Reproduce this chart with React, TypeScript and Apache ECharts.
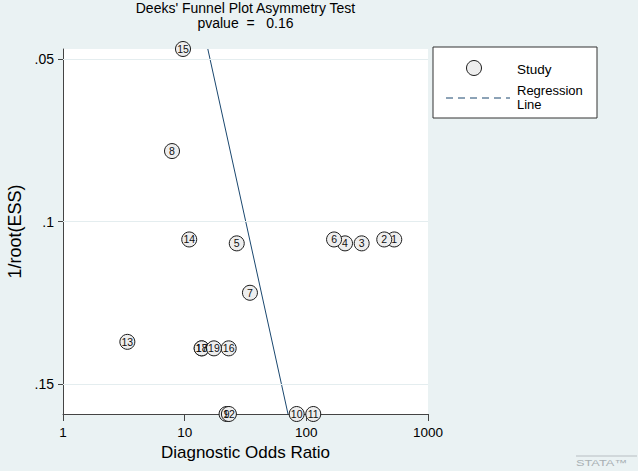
import React, { useEffect, useRef } from "react";
import * as echarts from "echarts";

// ---- data ----
const studyIds = ["1", "2", "3", "4", "5", "6", "7", "8", "9", "10", "11", "12", "13", "14", "15", "16", "17", "18", "19"];
const studyDOR = [528, 437, 285, 208, 26.8, 169, 34.4, 7.87, 22.1, 83.3, 114, 23.1, 3.38, 10.9, 9.69, 23.0, 13.8, 13.8, 17.4];
const studyInvRootESS = [0.1055, 0.1055, 0.1067, 0.1067, 0.1067, 0.1055, 0.1219, 0.0783, 0.1592, 0.1592, 0.1592, 0.1592, 0.137, 0.1055, 0.0469, 0.139, 0.139, 0.139, 0.139];
const regressionDOR = [15.5, 70.7];
const regressionInvRootESS = [0.0469, 0.1592];
const xTicks = [1, 10, 100, 1000];
const yTicks = [0.05, 0.1, 0.15];
const yTickLabels = [".05", ".1", ".15"];
const yRange = [0.0469, 0.1592];
const titleText = "Deeks' Funnel Plot Asymmetry Test";
const pvalueText = "pvalue\u00a0 =\u00a0\u00a0 0.16";

const FONT = "'Liberation Sans', Arial, Helvetica, sans-serif";
const BG = "#EAF2F3";
const NAVY = "#1A476F";

export default function App() {
  const ref = useRef<HTMLDivElement>(null);
  useEffect(() => {
    document.body.style.margin = "0";
    const chart = echarts.init(ref.current!, undefined, { renderer: "svg" });
    const gridLeft = 63, gridTop = 49, gridRight = 638 - 428, gridBottom = 471 - 414;
    const plotCenterX = (63 + 428) / 2;
    const points = studyIds.map((id, i) => ({ name: id, value: [studyDOR[i], studyInvRootESS[i]] }));
    const line = regressionDOR.map((x, i) => [x, regressionInvRootESS[i]]);
    chart.setOption({
      animation: false,
      backgroundColor: BG,
      textStyle: { fontFamily: FONT },
      grid: {
        left: gridLeft, top: gridTop, right: gridRight, bottom: gridBottom,
        containLabel: false, outerBoundsMode: "none",
        show: true, backgroundColor: "#ffffff", borderWidth: 0,
      },
      xAxis: {
        type: "log",
        logBase: 10,
        min: 1,
        max: 1000,
        name: "Diagnostic Odds Ratio",
        nameLocation: "middle",
        nameGap: 29,
        nameTextStyle: { fontSize: 17, color: "#000", fontFamily: FONT },
        axisLine: { show: true, lineStyle: { color: "#444", width: 1 } },
        axisTick: { show: true, length: 7, lineStyle: { color: "#444" }, customValues: xTicks },
        axisLabel: { fontSize: 13.5, color: "#000", margin: 11, fontFamily: FONT, customValues: xTicks, formatter: (v: number) => String(Math.round(v)) },
        splitLine: { show: false },
        minorTick: { show: false },
      },
      yAxis: {
        type: "value",
        inverse: true,
        min: yRange[0],
        max: yRange[1],
        name: "1/root(ESS)",
        nameLocation: "middle",
        nameGap: 36,
        nameRotate: 90,
        nameTextStyle: { fontSize: 18, color: "#000", fontFamily: FONT },
        axisLine: { show: true, onZero: false, lineStyle: { color: "#444", width: 1 } },
        axisTick: { show: true, length: 5, lineStyle: { color: "#444" }, customValues: yTicks },
        axisLabel: {
          fontSize: 14,
          color: "#000",
          margin: 9,
          fontFamily: FONT,
          customValues: yTicks,
          formatter: (v: number) => {
            const k = yTicks.findIndex((t) => Math.abs(t - v) < 1e-9);
            return k >= 0 ? yTickLabels[k] : "";
          },
        },
        splitLine: { show: false },
      },
      series: [
        {
          type: "scatter",
          data: [],
          z: 0,
          silent: true,
          markLine: {
            silent: true,
            symbol: "none",
            label: { show: false },
            lineStyle: { color: "#E4EDEF", width: 1.2, type: "solid" },
            data: yTicks.map((t) => ({ yAxis: t })),
          },
        },
        {
          name: "Study",
          type: "scatter",
          z: 2,
          symbol: "circle",
          symbolSize: 15,
          data: points,
          itemStyle: { color: "#EEEEEE", borderColor: "#1a1a1a", borderWidth: 1, opacity: 1 },
          label: { show: true, position: "inside", formatter: (p: any) => p.name, fontSize: 10.5, color: "#111", fontFamily: FONT },
        },
        {
          name: "Regression Line",
          type: "line",
          z: 3,
          symbol: "none",
          data: line,
          lineStyle: { color: NAVY, width: 1 },
        },
      ],
      graphic: [
        { type: "text", x: plotCenterX, y: 8, style: { text: titleText, fontSize: 14, fill: "#000", fontFamily: FONT, textAlign: "center", textVerticalAlign: "middle" } },
        { type: "text", x: plotCenterX, y: 23, style: { text: pvalueText, fontSize: 14, fill: "#000", fontFamily: FONT, textAlign: "center", textVerticalAlign: "middle" } },
        { type: "rect", shape: { x: 433, y: 47, width: 164, height: 71 }, style: { fill: "#ffffff", stroke: "#333", lineWidth: 1 } },
        { type: "circle", shape: { cx: 474, cy: 68, r: 7.5 }, style: { fill: "#EEEEEE", stroke: "#1a1a1a", lineWidth: 1 } },
        { type: "text", x: 517, y: 69, style: { text: "Study", fontSize: 13.5, fill: "#000", fontFamily: FONT, textVerticalAlign: "middle" } },
        { type: "line", shape: { x1: 446, y1: 98, x2: 510, y2: 98 }, style: { stroke: NAVY, lineWidth: 1, lineDash: [7, 5] } },
        { type: "text", x: 517, y: 90.5, style: { text: "Regression", fontSize: 13, fill: "#000", fontFamily: FONT, textVerticalAlign: "middle" } },
        { type: "text", x: 517, y: 104, style: { text: "Line", fontSize: 13, fill: "#000", fontFamily: FONT, textVerticalAlign: "middle" } },
        { type: "line", shape: { x1: 576, y1: 456, x2: 637, y2: 456 }, style: { stroke: "#b8bec2", lineWidth: 1 } },
        { type: "text", x: 576, y: 463, scaleX: 1.5, style: { text: "STATA™", fontSize: 8.5, fill: "#a8b0b4", fontFamily: FONT, textVerticalAlign: "middle" } },
      ],
    });
    return () => chart.dispose();
  }, []);
  return <div ref={ref} style={{ width: 638, height: 471 }} />;
}
